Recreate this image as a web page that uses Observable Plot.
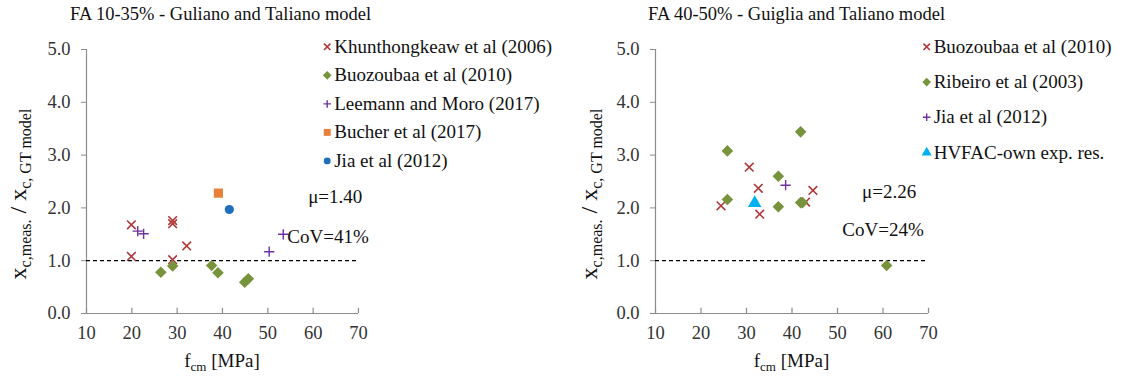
<!DOCTYPE html>
<html>
<head>
<meta charset="utf-8">
<script src="https://cdn.jsdelivr.net/npm/d3@7"></script>
<script src="https://cdn.jsdelivr.net/npm/@observablehq/plot@0.6"></script>
<style>
  body { margin: 0; background: #fff; font-family: "Liberation Serif", serif; }
  #wrap { position: relative; width: 1122px; height: 381px; display: flex; }
  .panel { position: relative; width: 561px; height: 381px; }
  .title { position: absolute; top: 4px; font-size: 18.5px; line-height: 21px; color: #111; white-space: nowrap; }
  #wrap svg, #wrap svg text, #wrap svg g { font-family: "Liberation Serif", serif !important; }
</style>
</head>
<body>
<div id="wrap">
  <div class="panel" id="left"><div class="title" style="left:70px">FA 10-35% - Guliano and Taliano model</div></div>
  <div class="panel" id="right"><div class="title" style="left:87px">FA 40-50% - Guiglia and Taliano model</div></div>
</div>
<script>
// ---------- data: left panel (FA 10-35%) ----------
const khunthongkeaw2006 = [[19.9,1.68],[19.9,1.08],[29.0,1.76],[29.0,1.70],[29.0,1.02],[32.1,1.28]];
const buozoubaa2010Left = [[26.4,0.78],[29.0,0.90],[37.6,0.91],[39.0,0.77],[44.9,0.59],[45.7,0.66]];
const leemannMoro2017 = [[21.3,1.56],[22.6,1.51],[50.3,1.17],[53.4,1.50]];
const bucher2017 = [[39.1,2.28]];
const jia2012Left = [[41.5,1.97]];
const leftStats = ["μ=1.40", "CoV=41%"];

// ---------- data: right panel (FA 40-50%) ----------
const buozoubaa2010Right = [[30.6,2.77],[32.6,2.37],[24.4,2.04],[32.9,1.88],[43.0,2.11],[44.6,2.33]];
const ribeiro2003 = [[25.8,3.08],[41.9,3.44],[37.0,2.60],[25.8,2.16],[37.0,2.02],[41.9,2.10],[42.3,2.10],[60.8,0.91]];
const jia2012Right = [[38.6,2.43]];
const hvfacOwn = [[31.8,2.09]];
const rightStats = ["μ=2.26", "CoV=24%"];

const xTicks = [10,20,30,40,50,60,70];
const yTicks = [0,1,2,3,4,5];

const RED = "#b0383a", GREEN = "#77933c", PURPLE = "#7030a0", ORANGE = "#e8803a", BLUE = "#1f6fc0", CYAN = "#00b0f0";

const styles = {
  times:    {symbol: "times", stroke: RED, fill: "none", r: 4.0, strokeWidth: 1.6},
  diamond:  {symbol: "diamond2", fill: GREEN, stroke: "none", r: 5.2},
  plus:     {symbol: "plus", stroke: PURPLE, fill: "none", r: 3.4, strokeWidth: 1.4},
  square:   {symbol: "square", fill: ORANGE, stroke: "none", r: 5.2},
  circle:   {symbol: "circle", fill: BLUE, stroke: "none", r: 4.6},
  triangle: {symbol: "triangle", fill: CYAN, stroke: "none", r: 5.0}
};

const leftSeries = [
  {name: "Khunthongkeaw et al (2006)", data: khunthongkeaw2006, style: "times"},
  {name: "Buozoubaa et al (2010)", data: buozoubaa2010Left, style: "diamond"},
  {name: "Leemann and Moro (2017)", data: leemannMoro2017, style: "plus"},
  {name: "Bucher et al (2017)", data: bucher2017, style: "square"},
  {name: "Jia et al (2012)", data: jia2012Left, style: "circle"}
];
const rightSeries = [
  {name: "Buozoubaa et al (2010)", data: buozoubaa2010Right, style: "times"},
  {name: "Ribeiro et al (2003)", data: ribeiro2003, style: "diamond"},
  {name: "Jia et al (2012)", data: jia2012Right, style: "plus"},
  {name: "HVFAC-own exp. res.", data: hvfacOwn, style: "triangle"}
];

function panel(series, stats, cfg) {
  const marks = [
    Plot.ruleX([10], {stroke: "#8c8c8c", strokeWidth: 1.2}),
    Plot.ruleY([0], {stroke: "#8c8c8c", strokeWidth: 1.2}),
    Plot.ruleX(xTicks, {y1: 0, y2: 0.1, stroke: "#8c8c8c", strokeWidth: 1.2}),
    Plot.axisY({ticks: yTicks, tickFormat: d => d.toFixed(1), tickSize: 5, tickPadding: 11, stroke: "#8c8c8c", fill: "#333", fontSize: 18.5, label: null}),
    Plot.axisX({ticks: xTicks, tickFormat: d => String(d), tickSize: 0, tickPadding: 12, fill: "#333", fontSize: 18.5, label: null}),
    Plot.ruleY([1], {x1: 10, x2: 70, stroke: "#000", strokeWidth: 1.3, strokeDasharray: "4,3"})
  ];
  for (const s of series) {
    marks.push(Plot.dot(s.data, {x: d => d[0], y: d => d[1], ...styles[s.style]}));
  }
  series.forEach((s, i) => {
    const ly = cfg.legendY0 - i * cfg.legendStep;
    marks.push(Plot.dot([s.name], {x: cfg.legendX, y: ly, ...styles[s.style], r: styles[s.style].r * 0.75}));
    marks.push(Plot.text([s.name], {x: cfg.legendX, y: ly, text: d => d, dx: 7, textAnchor: "start", fontSize: 19, fill: "#111"}));
  });
  marks.push(Plot.text([stats[0]], {x: cfg.muX, y: cfg.muY, text: d => d, textAnchor: "start", fontSize: 19, fill: "#111"}));
  marks.push(Plot.text([stats[1]], {x: cfg.covX, y: cfg.covY, text: d => d, textAnchor: "start", fontSize: 19, fill: "#111"}));

  const chart = Plot.plot({
    width: 561, height: 381,
    marginLeft: cfg.ml, marginRight: cfg.mr, marginTop: 49, marginBottom: 68,
    x: {domain: [10, 70]},
    y: {domain: [0, 5]},
    style: {fontFamily: "Liberation Serif, serif", fontSize: "18px", background: "transparent", color: "#333", overflow: "visible"},
    marks
  });

  const svg = d3.select(chart);
  // y-axis label with subscripts
  const yl = svg.append("text")
    .attr("transform", `translate(${cfg.ylx},${194}) rotate(-90)`)
    .attr("text-anchor", "middle")
    .attr("fill", "#111")
    .attr("font-size", 24);
  yl.append("tspan").text("x");
  yl.append("tspan").attr("font-size", 16).attr("dy", 5).text("c,meas.");
  yl.append("tspan").attr("dy", -5).text(" / x");
  yl.append("tspan").attr("font-size", 16).attr("dy", 5).text("c, GT model");
  // x-axis label
  const xl = svg.append("text")
    .attr("x", (cfg.ml + (561 - cfg.mr)) / 2).attr("y", 367)
    .attr("text-anchor", "middle")
    .attr("fill", "#111")
    .attr("font-size", 19);
  xl.append("tspan").text("f");
  xl.append("tspan").attr("font-size", 13).attr("dy", 4).text("cm");
  xl.append("tspan").attr("dy", -4).text(" [MPa]");
  return chart;
}

document.getElementById("left").appendChild(panel(leftSeries, leftStats, {
  ml: 86, mr: 203, legendX: 63.1, legendY0: 5.05, legendStep: 0.54,
  muX: 58.9, muY: 2.21, covX: 54.3, covY: 1.45, ylx: 26
}));
document.getElementById("right").appendChild(panel(rightSeries, rightStats, {
  ml: 94, mr: 194, legendX: 69.6, legendY0: 5.05, legendStep: 0.667,
  muX: 55.4, muY: 2.31, covX: 51.05, covY: 1.59, ylx: 36
}));
</script>
</body>
</html>
